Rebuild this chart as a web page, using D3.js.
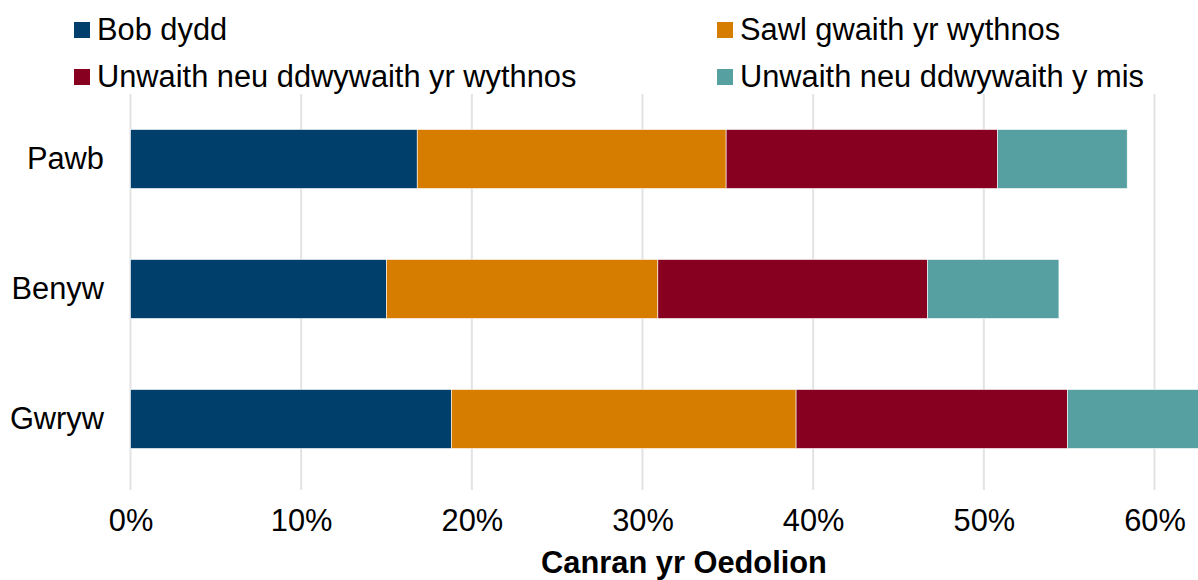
<!DOCTYPE html>
<html>
<head>
<meta charset="utf-8">
<script src="https://cdn.jsdelivr.net/npm/d3@7"></script>
<style>
  body { margin: 0; background: #fff; }
  svg { display: block; font-family: "Liberation Sans", Arial, sans-serif; }
</style>
</head>
<body>
<script>
const width = 1198, height = 580;

// data (percent of adults)
const groups = ["Pawb", "Benyw", "Gwryw"];
const series = ["Bob dydd", "Sawl gwaith yr wythnos", "Unwaith neu ddwywaith yr wythnos", "Unwaith neu ddwywaith y mis"];
const bobDydd = [16.8, 15.0, 18.8];
const sawlGwaith = [18.1, 15.9, 20.2];
const unwaithWythnos = [15.9, 15.8, 15.9];
const unwaithMis = [7.6, 7.7, 8.0];
const xTicks = [0, 10, 20, 30, 40, 50, 60];
const colours = ["#003e6b", "#d67d00", "#87001f", "#56a0a2"];

const values = [bobDydd, sawlGwaith, unwaithWythnos, unwaithMis];
const rows = groups.map((g, i) => {
  const r = { group: g };
  series.forEach((s, j) => r[s] = values[j][i]);
  return r;
});
const stacked = d3.stack().keys(series)(rows);

const fs = 30.8;

const svg = d3.select("body").append("svg")
  .attr("width", width)
  .attr("height", height);

const x = d3.scaleLinear().domain([0, 60]).range([130.5, 1154.5]);
const y = d3.scaleBand().domain(groups).range([94, 484]).paddingInner(0.546).paddingOuter(0.273);

// gridlines
svg.append("g").selectAll("line")
  .data(xTicks)
  .enter()
  .append("line")
    .attr("x1", d => x(d)).attr("x2", d => x(d))
    .attr("y1", 94).attr("y2", 490)
    .attr("stroke", "#e3e3e3")
    .attr("stroke-width", 2);

// bars
svg.append("g").selectAll("g")
  .data(stacked)
  .enter()
  .append("g")
    .attr("fill", (d, i) => colours[i])
  .selectAll("rect")
  .data(d => d)
  .enter()
  .append("rect")
    .attr("x", d => x(d[0]))
    .attr("width", d => x(d[1]) - x(d[0]))
    .attr("y", d => y(d.data.group))
    .attr("height", y.bandwidth())
    .attr("stroke", "#fff")
    .attr("stroke-width", 0.6);

// x axis
const xAxis = svg.append("g")
  .attr("transform", "translate(0,531)")
  .call(d3.axisBottom(x).tickValues(xTicks).tickFormat(d => d + "%").tickSize(0).tickPadding(0));
xAxis.select(".domain").remove();
xAxis.selectAll("text")
  .attr("dy", 0)
  .attr("font-size", fs)
  .attr("font-family", "Liberation Sans, Arial, sans-serif")
  .attr("fill", "#000");

svg.append("text")
  .attr("x", 684)
  .attr("y", 573)
  .attr("text-anchor", "middle")
  .attr("font-size", fs)
  .attr("font-weight", "bold")
  .text("Canran yr Oedolion");

// y axis
const yAxis = svg.append("g")
  .attr("transform", "translate(104,0)")
  .call(d3.axisLeft(y).tickSize(0).tickPadding(0));
yAxis.select(".domain").remove();
yAxis.selectAll("text")
  .attr("font-size", fs)
  .attr("font-family", "Liberation Sans, Arial, sans-serif")
  .attr("fill", "#000");

// legend
const legendPos = [[74, 30], [717, 30], [74, 77], [717, 77]];
const legend = svg.append("g").selectAll("g")
  .data(series)
  .enter()
  .append("g")
    .attr("transform", (d, i) => "translate(" + legendPos[i][0] + "," + legendPos[i][1] + ")");
legend.append("rect")
  .attr("x", 0).attr("y", -8)
  .attr("width", 16).attr("height", 16)
  .attr("fill", (d, i) => colours[i]);
legend.append("text")
  .attr("x", 23)
  .attr("y", 10)
  .attr("font-size", fs)
  .text(d => d);
</script>
</body>
</html>
